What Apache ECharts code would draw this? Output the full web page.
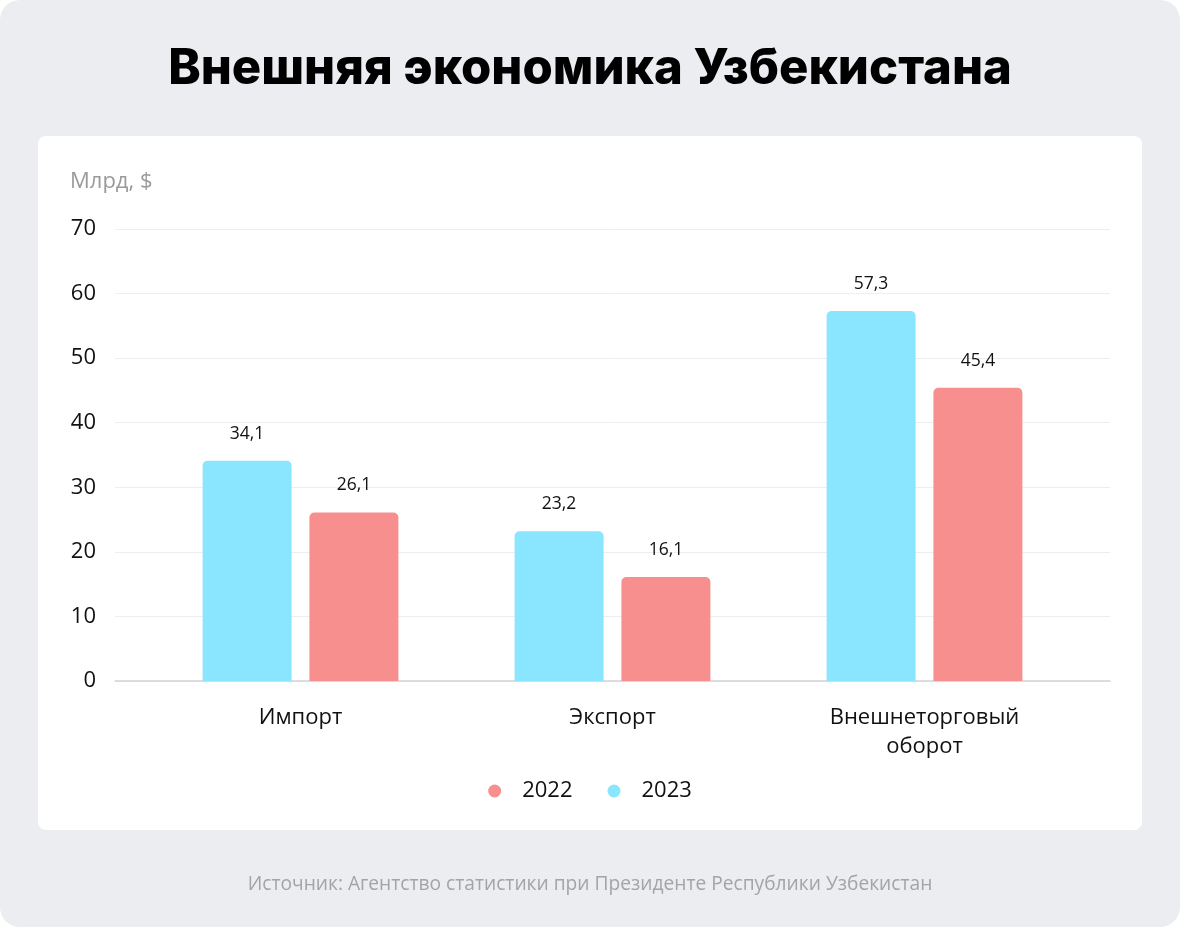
<!DOCTYPE html>
<html><head><meta charset="utf-8">
<script src="https://cdn.jsdelivr.net/npm/echarts@6/dist/echarts.min.js"></script>
<style>html,body{margin:0;padding:0;background:#fff}#c{width:1180px;height:927px}</style>
</head><body><div id="c"></div>
<script>
const categories = ['Импорт', 'Экспорт', 'Внешнеторговый\nоборот'];
const values2023 = [34.1, 23.2, 57.3];
const values2022 = [26.1, 16.1, 45.4];
const yTicks = {min: 0, max: 70, interval: 10};
const titleText = 'Внешняя экономика Узбекистана';
const unitText = 'Млрд, $';
const sourceText = 'Источник: Агентство статистики при Президенте Республики Узбекистан';

const C2023 = '#8AE6FE', C2022 = '#F78F8F';
const FONT = 'Open Sans';
const chart = echarts.init(document.getElementById('c'), null, {renderer: 'canvas'});
const fmt = p => String(p.value).replace('.', ',');
chart.setOption({
  animation: false,
  graphic: [
    {type: 'rect', z: -10, shape: {x: 0, y: 0, width: 1180, height: 927, r: 20}, style: {fill: '#ECEDF1'}},
    {type: 'rect', z: -9, shape: {x: 38, y: 136, width: 1104, height: 694, r: 8}, style: {fill: '#FFFFFF'}},
    {type: 'text', left: 70, top: 171, style: {text: unitText, fill: '#9A9A9A', font: '22px "Open Sans"'}}
  ],
  title: [
    {text: titleText, left: 'center', top: 40, textStyle: {fontFamily: 'Inter', fontWeight: 800, fontSize: 49, color: '#000'}},
    {text: sourceText, left: 'center', top: 870, textStyle: {fontFamily: FONT, fontWeight: 'normal', fontSize: 19.2, color: '#A3A3A8'}}
  ],
  legend: {
    data: ['2022', '2023'], top: 775, left: 'center', icon: 'circle', itemWidth: 13, itemHeight: 13, itemGap: 35,
    textStyle: {fontFamily: FONT, fontSize: 22, color: '#111', padding: [0, 0, 0, 16]}
  },
  grid: [
    {left: 115, right: 70, top: 229, bottom: 927 - 681},
    {left: 144.5, right: 99.5, top: 229, bottom: 927 - 681}
  ],
  xAxis: [
    {type: 'category', gridIndex: 0, data: [''], axisLine: {lineStyle: {color: '#D4D4D8', width: 1.5}}, axisTick: {show: false}, axisLabel: {show: false}},
    {type: 'category', gridIndex: 1, data: categories, axisLine: {show: false}, axisTick: {show: false},
     axisLabel: {margin: 22, fontFamily: FONT, fontSize: 22, color: '#111', lineHeight: 29}}
  ],
  yAxis: [
    {type: 'value', gridIndex: 0, min: yTicks.min, max: yTicks.max, interval: yTicks.interval,
     axisLabel: {margin: 19, fontFamily: FONT, fontSize: 22, color: '#111'},
     splitLine: {lineStyle: {color: '#EEEEF0', width: 1}}, axisLine: {show: false}, axisTick: {show: false}},
    {type: 'value', gridIndex: 1, min: yTicks.min, max: yTicks.max, interval: yTicks.interval, show: false}
  ],
  series: [
    {name: '2023', type: 'bar', xAxisIndex: 1, yAxisIndex: 1, data: values2023, barWidth: 89, barGap: '20%',
     itemStyle: {color: C2023, borderRadius: [5, 5, 0, 0]},
     label: {show: true, position: 'top', distance: 18, formatter: fmt, fontFamily: FONT, fontSize: 17.5, color: '#111'}},
    {name: '2022', type: 'bar', xAxisIndex: 1, yAxisIndex: 1, data: values2022, barWidth: 89, barGap: '20%',
     itemStyle: {color: C2022, borderRadius: [5, 5, 0, 0]},
     label: {show: true, position: 'top', distance: 18, formatter: fmt, fontFamily: FONT, fontSize: 17.5, color: '#111'}}
  ]
});
</script></body></html>
